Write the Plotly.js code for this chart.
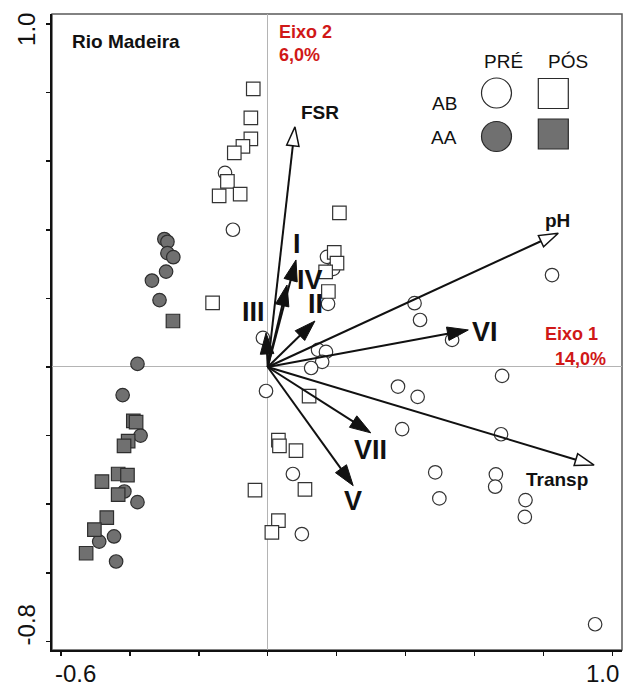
<!DOCTYPE html>
<html>
<head>
<meta charset="utf-8">
<script src="https://cdn.plot.ly/plotly-3.0.1.min.js"></script>
<style>
  html, body { margin: 0; padding: 0; background: #fff; }
  #chart { width: 625px; height: 688px; }
</style>
</head>
<body>
<div id="chart"></div>
<script>
// Ordination scores, Rio Madeira. AB = open symbols, AA = grey symbols;
// PRÉ = circles, PÓS = squares.
const abPreX = [-0.124, -0.101, 0.172, 0.190, 0.175, -0.014, 0.146, 0.169, 0.158, 0.126,
                -0.005, 0.073, 0.099, 0.426, 0.442, 0.535, 0.825, 0.378, 0.435, 0.390,
                0.680, 0.677, 0.486, 0.498, 0.662, 0.660, 0.748, 0.746, 0.950];
const abPreY = [0.566, 0.400, 0.321, 0.286, 0.184, 0.085, 0.050, 0.044, 0.015, -0.003,
                -0.070, -0.312, -0.487, 0.186, 0.137, 0.079, 0.268, -0.057, -0.087, -0.181,
                -0.026, -0.196, -0.307, -0.383, -0.313, -0.349, -0.388, -0.437, -0.750];

const abPosX = [-0.042, -0.049, -0.049, -0.072, -0.097, -0.117, -0.141, -0.080, -0.160, 0.208,
                0.193, 0.201, 0.168, 0.176, 0.120, 0.031, 0.034, 0.082, -0.037, 0.108,
                0.031, 0.012];
const abPosY = [0.811, 0.726, 0.665, 0.643, 0.624, 0.541, 0.499, 0.504, 0.187, 0.449,
                0.334, 0.303, 0.277, 0.220, -0.085, -0.213, -0.230, -0.244, -0.359, -0.357,
                -0.448, -0.482];

const aaPreX = [-0.300, -0.291, -0.291, -0.274, -0.295, -0.336, -0.314, -0.378, -0.421, -0.369,
                -0.416, -0.378, -0.446, -0.489, -0.440];
const aaPreY = [0.373, 0.365, 0.332, 0.320, 0.278, 0.252, 0.195, 0.009, -0.082, -0.200,
                -0.363, -0.394, -0.494, -0.509, -0.567];

const aaPosX = [-0.275, -0.390, -0.382, -0.405, -0.417, -0.434, -0.407, -0.481, -0.434, -0.467,
                -0.503, -0.527];
const aaPosY = [0.134, -0.157, -0.161, -0.216, -0.230, -0.312, -0.315, -0.334, -0.372, -0.439,
                -0.474, -0.543];

// Environmental variables and groups (biplot vectors)
const vecNames = ['FSR', 'pH', 'Transp', 'I', 'II', 'III', 'IV', 'V', 'VI', 'VII'];
const vecX = [0.079, 0.843, 0.947, 0.082, 0.137, -0.005, 0.056, 0.248, 0.582, 0.299];
const vecY = [0.700, 0.390, -0.286, 0.312, 0.134, 0.099, 0.239, -0.346, 0.108, -0.192];

const tickVals = [-0.8, -0.6, -0.4, -0.2, 0, 0.2, 0.4, 0.6, 0.8, 1.0];
const axisLabelsX = ['-0.6', '1.0'];
const axisLabelsY = ['1.0', '-0.8'];

// ---- styling ----
const FONT = 'Liberation Sans, Arial, sans-serif';
const RED = '#d01818';
const GREY = '#707070';
const INK = '#111111';
const openHeads = new Set(['FSR', 'pH', 'Transp']);
// label offsets from the vector tip, in pixels [dx, dy(up)]
const labelShift = {
  FSR: [25, 14], pH: [-1, 13], Transp: [-37, -14],
  I: [1, 16], II: [1, 17], III: [-13, 21], IV: [23, 5],
  V: [0, -15], VI: [17, -2], VII: [0, -17]
};

// plot-area frame in page pixels, for placing decorations
const PL = 52, PR = 622, PT = 14, PB = 650;
const px = x => (x - PL) / (PR - PL);
const py = y => (PB - y) / (PB - PT);

function pts(x, y, symbol, fill) {
  return {
    x: x, y: y, type: 'scatter', mode: 'markers', hoverinfo: 'skip',
    marker: { symbol: symbol, size: 13.5, color: fill, opacity: 1,
              line: { color: fill === '#ffffff' ? '#333' : '#2e2e2e', width: 1.2 } }
  };
}

const traces = [
  pts(abPreX, abPreY, 'circle', '#ffffff'),
  pts(aaPreX, aaPreY, 'circle', GREY),
  pts(abPosX, abPosY, 'square', '#ffffff'),
  pts(aaPosX, aaPosY, 'square', GREY)
];

vecNames.forEach((name, i) => {
  const open = openHeads.has(name);
  traces.push({
    x: [0, vecX[i]], y: [0, vecY[i]], type: 'scatter', mode: 'lines+markers', hoverinfo: 'skip',
    line: { color: INK, width: 2 },
    marker: {
      symbol: 'arrow', angleref: 'previous', size: [0, open ? 20 : 22], opacity: 1,
      color: open ? '#ffffff' : INK,
      line: { color: INK, width: open ? 1.5 : 1 }
    }
  });
});

const annotations = vecNames.map((name, i) => ({
  x: vecX[i], y: vecY[i], xref: 'x', yref: 'y', text: '<b>' + name + '</b>', showarrow: false,
  xanchor: 'center', yanchor: 'middle',
  xshift: labelShift[name][0], yshift: labelShift[name][1],
  font: { family: FONT, size: openHeads.has(name) ? 19 : 27, color: INK }
}));

// end-of-axis labels
const endLabel = (o) => Object.assign({ showarrow: false, xanchor: 'center', yanchor: 'middle', borderpad: 0,
  font: { family: FONT, size: 24, color: INK } }, o);
annotations.push(
  endLabel({ x: -0.6, xref: 'x', y: 0, yref: 'paper', text: axisLabelsX[0], xshift: 15, yshift: -23 }),
  endLabel({ x: 1.0, xref: 'x', y: 0, yref: 'paper', text: axisLabelsX[1], xshift: -10, yshift: -23 }),
  endLabel({ x: 0, xref: 'paper', y: 1.0, yref: 'y', text: axisLabelsY[0], textangle: -90, xshift: -25, yshift: -6 }),
  endLabel({ x: 0, xref: 'paper', y: -0.8, yref: 'y', text: axisLabelsY[1], textangle: -90, xshift: -26, yshift: 16 })
);

// panel title, axis inertia and legend text
const txt = (x, y, text, size, color, anchor) => ({
  x: px(x), y: py(y), xref: 'paper', yref: 'paper', text: text, showarrow: false,
  xanchor: anchor || 'center', yanchor: 'middle', align: 'left',
  font: { family: FONT, size: size, color: color }
});
annotations.push(
  txt(70, 41, '<b>Rio Madeira</b>', 19, INK, 'left'),
  txt(277, 43, '<b>Eixo 2<br>6,0%</b>', 18, RED, 'left'),
  txt(571, 334, '<b>Eixo 1</b>', 18, RED),
  txt(580, 359, '<b>14,0%</b>', 18, RED),
  txt(503, 61, 'PRÉ', 19, INK),
  txt(568, 61, 'PÓS', 19, INK),
  txt(444, 103, 'AB', 19, INK),
  txt(444, 138, 'AA', 19, INK)
);

const key = (type, cx, cy, fill) => ({
  type: type, xref: 'paper', yref: 'paper', xsizemode: 'pixel', ysizemode: 'pixel',
  xanchor: px(cx), yanchor: py(cy), x0: -15, x1: 15, y0: -15, y1: 15,
  fillcolor: fill, line: { color: '#2a2a2a', width: 1.2 }, layer: 'above'
});

const shapes = [
  { type: 'rect', xref: 'paper', yref: 'paper', x0: 0, x1: 1, y0: 0, y1: 1,
    line: { color: '#5a5a5a', width: 1.5 }, layer: 'below' },
  key('circle', 496.5, 93, '#ffffff'),
  key('circle', 496.5, 136.5, GREY),
  key('rect', 553.3, 93.5, '#ffffff'),
  key('rect', 553.3, 134, GREY)
];

const axisCommon = {
  tickvals: tickVals, showticklabels: false, ticks: 'outside', ticklen: 4, tickwidth: 1.5, tickcolor: INK,
  showline: true, linecolor: INK, linewidth: 2, showgrid: false,
  zeroline: true, zerolinecolor: '#b4b4b4', zerolinewidth: 1, fixedrange: true
};

const layout = {
  width: 625, height: 688,
  margin: { l: PL, r: 625 - PR, t: PT, b: 688 - PB },
  paper_bgcolor: '#ffffff', plot_bgcolor: '#ffffff', showlegend: false,
  font: { family: FONT, color: INK },
  xaxis: Object.assign({ range: [-0.626, 1.028] }, axisCommon),
  yaxis: Object.assign({ range: [-0.825, 1.029] }, axisCommon),
  annotations: annotations,
  shapes: shapes
};

Plotly.newPlot('chart', traces, layout, { staticPlot: true, displayModeBar: false });
</script>
</body>
</html>
